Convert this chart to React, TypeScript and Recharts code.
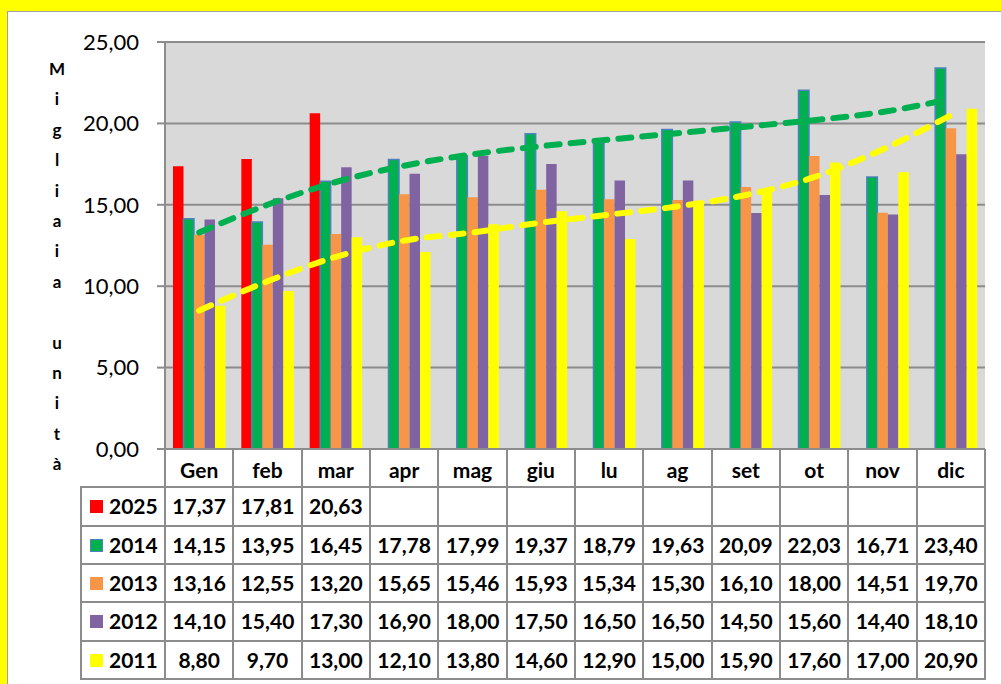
import React from "react";
import { ComposedChart, Bar, Line, XAxis, YAxis, CartesianGrid } from "recharts";

const months = ["Gen", "feb", "mar", "apr", "mag", "giu", "lu", "ag", "set", "ot", "nov", "dic"];
const v2025 = [17.37, 17.81, 20.63, null, null, null, null, null, null, null, null, null];
const v2014 = [14.15, 13.95, 16.45, 17.78, 17.99, 19.37, 18.79, 19.63, 20.09, 22.03, 16.71, 23.4];
const v2013 = [13.16, 12.55, 13.2, 15.65, 15.46, 15.93, 15.34, 15.3, 16.1, 18.0, 14.51, 19.7];
const v2012 = [14.1, 15.4, 17.3, 16.9, 18.0, 17.5, 16.5, 16.5, 14.5, 15.6, 14.4, 18.1];
const v2011 = [8.8, 9.7, 13.0, 12.1, 13.8, 14.6, 12.9, 15.0, 15.9, 17.6, 17.0, 20.9];
// trend lines
const trend2014 = [13.3, 15.0, 16.4, 17.4, 18.1, 18.6, 19.0, 19.4, 19.8, 20.2, 20.7, 21.5];
const trend2011 = [8.5, 10.3, 11.8, 12.8, 13.3, 13.9, 14.4, 14.9, 15.6, 16.7, 18.4, 20.5];
const yTicks = [0, 5, 10, 15, 20, 25];

const series = [
  { key: "y2025", name: "2025", values: v2025, color: "#ff0000" },
  { key: "y2014", name: "2014", values: v2014, color: "#00b050", stroke: "#4f81bd" },
  { key: "y2013", name: "2013", values: v2013, color: "#f79646" },
  { key: "y2012", name: "2012", values: v2012, color: "#8064a2" },
  { key: "y2011", name: "2011", values: v2011, color: "#ffff00" },
];

const data = months.map((m, i) => {
  const row: Record<string, any> = { month: m, t2014: trend2014[i], t2011: trend2011[i] };
  series.forEach((s) => (row[s.key] = s.values[i]));
  return row;
});

const fmt = (v: number) => v.toFixed(2).replace(".", ",");

const FONT = "Lato, 'Open Sans', sans-serif";
const GRID = "#8c8c8c";
const PLOT_L = 165;
const PLOT_R = 985;
const PLOT_B = 449;
const ROW_H = 38.3;
const COL_W = (PLOT_R - PLOT_L) / months.length;
const LEG_L = 81;

export default function App() {
  const title = "Migliaia unità".split("");
  return (
    <div style={{ position: "fixed", left: 0, top: 0, width: 1001, height: 684, background: "#ffff00", overflow: "hidden", fontFamily: FONT }}>
      <div style={{ position: "absolute", left: 7, top: 11, width: 994, height: 673, background: "#fff", borderLeft: "1px solid #a0a0a0", borderTop: "1px solid #a0a0a0" }} />
      <div style={{ position: "absolute", left: 0, top: 0 }}>
        <ComposedChart width={1001} height={684} data={data} margin={{ top: 42, right: 16, bottom: 205, left: 85 }} barGap={0} barCategoryGap={8}>
          <CartesianGrid vertical={false} stroke={GRID} strokeWidth={2} fill="#d9d9d9" />
          <XAxis dataKey="month" height={30} axisLine={{ stroke: GRID, strokeWidth: 2 }} tickLine={false} tickSize={0} tickMargin={14}
            tick={{ fontSize: 21, fontWeight: 700, fill: "#000", fontFamily: FONT }} interval={0} />
          <YAxis width={80} domain={[0, 25]} ticks={yTicks} tickFormatter={fmt} axisLine={{ stroke: GRID, strokeWidth: 2 }}
            tickLine={{ stroke: GRID, strokeWidth: 2 }} tickSize={8} tickMargin={18}
            tick={{ fontSize: 22, fill: "#000", fontFamily: FONT }} />
          {series.map((s) => (
            <Bar key={s.key} dataKey={s.key} fill={s.color} stroke={s.stroke} strokeWidth={s.stroke ? 1.5 : 0} barSize={10.5} isAnimationActive={false} />
          ))}
          <Line type="monotone" dataKey="t2014" stroke="#00b050" strokeWidth={6} strokeDasharray="13 11" strokeLinecap="round" dot={false} activeDot={false} isAnimationActive={false} />
          <Line type="monotone" dataKey="t2011" stroke="#ffff00" strokeWidth={6} strokeDasharray="13 11" strokeLinecap="round" dot={false} activeDot={false} isAnimationActive={false} />
        </ComposedChart>
      </div>

      {/* axis title */}
      <div style={{ position: "absolute", left: 42, top: 54, width: 30 }}>
        {title.map((c, i) => (
          <div key={i} style={{ height: 30.4, lineHeight: "30.4px", textAlign: "center", fontSize: 17, fontWeight: 700 }}>{c === " " ? "\u00a0" : c}</div>
        ))}
      </div>

      {/* data table grid */}
      {months.map((_, i) => (
        <div key={"v" + i} style={{ position: "absolute", left: PLOT_L + i * COL_W - 1, top: PLOT_B, width: 2, height: ROW_H * 6, background: GRID }} />
      ))}
      <div style={{ position: "absolute", left: PLOT_R - 1, top: PLOT_B, width: 2, height: ROW_H * 6, background: GRID }} />
      <div style={{ position: "absolute", left: LEG_L - 1, top: PLOT_B + ROW_H, width: 2, height: ROW_H * 5, background: GRID }} />
      {[1, 2, 3, 4, 5, 6].map((r) => (
        <div key={"h" + r} style={{ position: "absolute", left: LEG_L - 1, top: PLOT_B + r * ROW_H - 1, width: PLOT_R - LEG_L + 2, height: 2, background: GRID }} />
      ))}
      {series.map((s, r) => (
        <React.Fragment key={s.key}>
          <div style={{ position: "absolute", left: LEG_L + 9, top: PLOT_B + (r + 1) * ROW_H + 13, width: 13, height: 13, background: s.color, boxSizing: "border-box", border: s.stroke ? `1.5px solid ${s.stroke}` : "none" }} />
          <div style={{ position: "absolute", left: LEG_L + 28, top: PLOT_B + (r + 1) * ROW_H, height: ROW_H, lineHeight: `${ROW_H}px`, fontSize: 21, fontWeight: 700 }}>{s.name}</div>
          {s.values.map((v, i) => (
            <div key={i} style={{ position: "absolute", left: PLOT_L + i * COL_W, top: PLOT_B + (r + 1) * ROW_H, width: COL_W, height: ROW_H, lineHeight: `${ROW_H}px`, textAlign: "center", fontSize: 21, fontWeight: 700 }}>
              {v == null ? "" : fmt(v)}
            </div>
          ))}
        </React.Fragment>
      ))}
    </div>
  );
}
